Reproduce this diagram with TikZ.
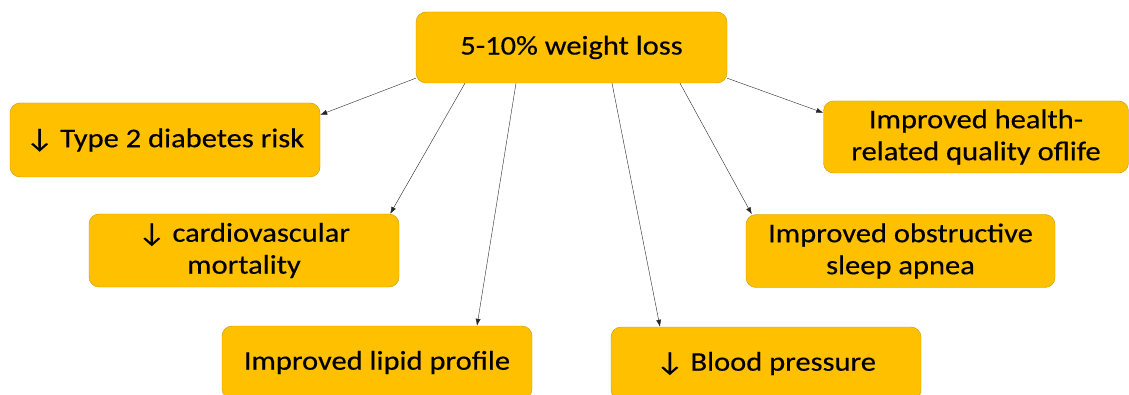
\documentclass[tikz,border=0pt]{standalone}
\usepackage{fontspec}
\setmainfont{Carlito}[FakeStretch=1.13, FakeBold=0.4]
\usepackage{tikz}
\usetikzlibrary{%
  arrows.meta,%
  positioning%
}
\definecolor{boxfill}{HTML}{FFC000}
\definecolor{boxline}{HTML}{C99A00}

\begin{document}
\begin{tikzpicture}[x=1pt, y=-1pt]
  \tikzset{
    outcome/.style = {draw=boxline, fill=boxfill, rounded corners=10pt,
      minimum width=310pt, minimum height=73pt, align=center,
      font=\fontsize{27}{32}\selectfont, inner sep=2pt},
    EdgeStyle/.style = {-{Latex[length=7pt,width=5pt]}, thin, black!85}
  }
  \useasboundingbox (0,0) rectangle (1129,395);

  \node[outcome, minimum width=311pt, minimum height=71pt] (loss) at (571.5, 47.5) {5-10\% weight loss};

  % left side
  \node[outcome, minimum height=74pt] (diab)   at (165, 140)   {↓ Type 2 diabetes risk};
  \node[outcome] (cardio) at (244, 250.5) {↓ cardiovascular\\mortality};
  \node[outcome] (lipid)  at (377, 362.5) {Improved lipid profile};

  % right side
  \node[outcome] (bp)     at (766, 363.5) {↓ Blood pressure};
  \node[outcome, minimum width=309pt] (osa)    at (900.5, 251) {Improved obstructive\\sleep apnea};
  \node[outcome, minimum width=305pt, minimum height=72pt] (hrql) at (976, 137) {Improved health-\\related quality oflife};

  % arrows out of the top box
  \draw[EdgeStyle] ([yshift=5]loss.south west)  -- ([yshift=-12]diab.north east);
  \draw[EdgeStyle] ([xshift=-106.5]loss.south)  -- ([xshift=-9]cardio.north east);
  \draw[EdgeStyle] ([xshift=-55.5]loss.south)   -- ([xshift=100]lipid.north);
  \draw[EdgeStyle] ([xshift=40.5]loss.south)    -- ([xshift=-106]bp.north);
  \draw[EdgeStyle] ([xshift=108.5]loss.south)   -- ([xshift=6]osa.north west);
  \draw[EdgeStyle] ([yshift=5]loss.south east)  -- ([yshift=-12]hrql.north west);
\end{tikzpicture}
\end{document}
